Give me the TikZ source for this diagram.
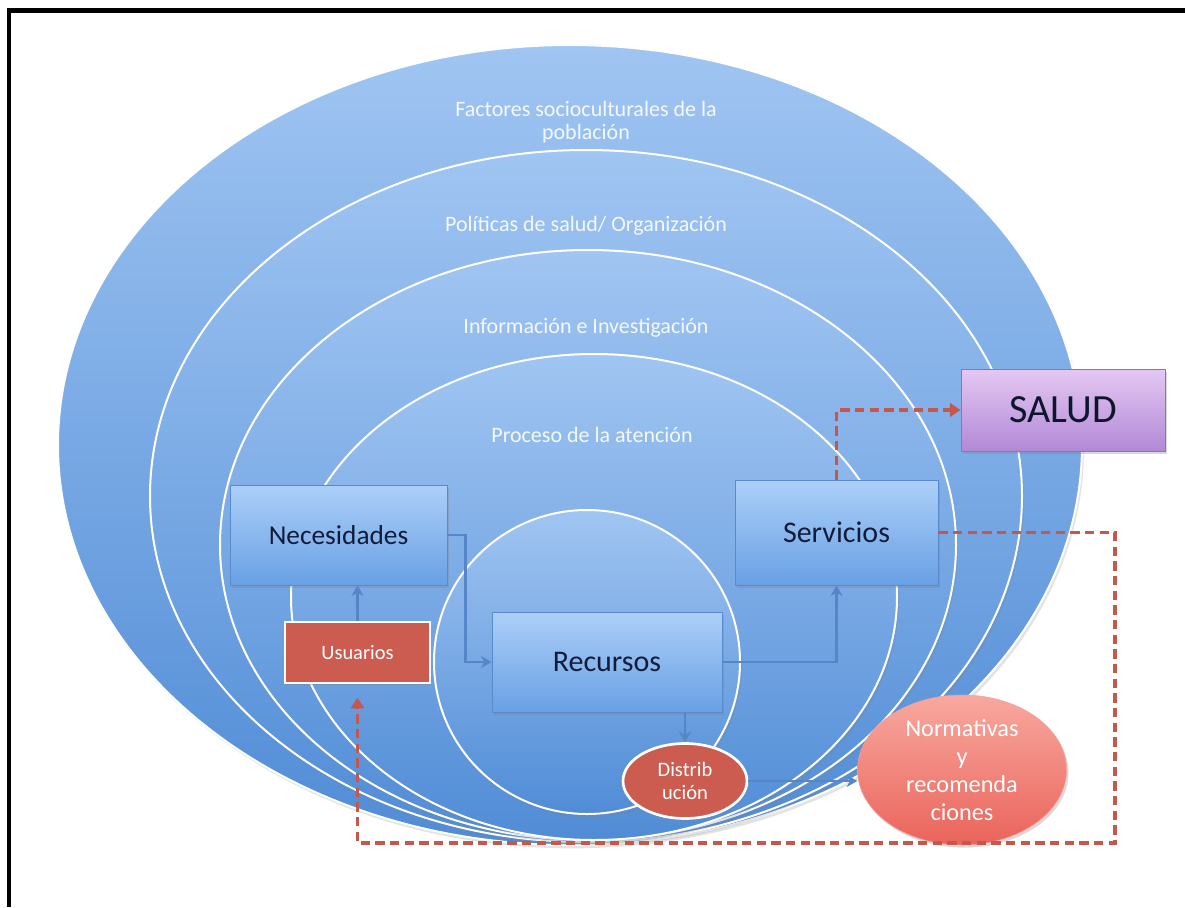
\documentclass[tikz,border=0pt]{standalone}
\usepackage{fontspec}
\setmainfont{Carlito}
\usetikzlibrary{shapes.geometric,arrows.meta,shadows}
\definecolor{ringTop}{RGB}{160,197,242}
\definecolor{ringBot}{RGB}{80,140,214}
\definecolor{boxTop}{RGB}{172,207,248}
\definecolor{boxBot}{RGB}{104,160,228}
\definecolor{boxLine}{RGB}{88,138,205}
\definecolor{navyText}{RGB}{18,28,58}
\definecolor{purTop}{RGB}{228,200,242}
\definecolor{purBot}{RGB}{178,136,214}
\definecolor{purLine}{RGB}{150,110,190}
\definecolor{redFill}{RGB}{204,92,80}
\definecolor{salTop}{RGB}{248,168,160}
\definecolor{salBot}{RGB}{234,100,90}
\definecolor{dashRed}{RGB}{196,88,76}
\definecolor{arrBlue}{RGB}{84,134,200}
\tikzset{
  ring/.style={ellipse, draw=white, line width=1.5pt, inner sep=0pt,
    top color=ringTop, bottom color=ringBot,
    drop shadow={opacity=0.22, shadow xshift=1.5pt, shadow yshift=-2.5pt}},
  ringlabel/.style={text=white, font=\fontsize{16.5}{17.5}\selectfont, align=center, opacity=0.9},
  bluebox/.style={rectangle, draw=boxLine, line width=0.6pt, top color=boxTop, bottom color=boxBot,
    text=navyText, drop shadow={opacity=0.3, shadow xshift=1.5pt, shadow yshift=-2pt}},
  redbox/.style={rectangle, draw=white, line width=2pt, fill=redFill, text=white,
    font=\fontsize{15.3}{18}\selectfont,
    drop shadow={opacity=0.3, shadow xshift=1pt, shadow yshift=-1.5pt}},
  bluearrow/.style={draw=arrBlue, line width=2.2pt, -{Stealth[length=8pt,width=9pt]}},
  dasharrow/.style={draw=dashRed, line width=2.4pt, dash pattern=on 7pt off 4pt,
    -{Triangle[length=8pt,width=10pt]}}
}
\begin{document}
\begin{tikzpicture}[x=0.75pt,y=-0.75pt]
\useasboundingbox (0,0) rectangle (1185,907);
\fill[white] (0,0) rectangle (1185,907);
\draw[line width=3.5pt] (9,907) -- (9,10.5) -- (1185,10.5);

% nested rings
\node[ring, minimum width=768pt, minimum height=600pt] (e1) at (570,445) {};
\node[ring, minimum width=654pt, minimum height=519pt] (e2) at (586,496) {};
\node[ring, minimum width=552pt, minimum height=442.5pt] (e3) at (588,545) {};
\node[ring, minimum width=454.5pt, minimum height=364.5pt] (e4) at (594,597) {};
\node[ring, minimum width=229.5pt, minimum height=228pt] (e5) at (587,662) {};

% ring labels
\node[ringlabel] (l1) at (586,122) {Factores socioculturales de la\\población};
\node[ringlabel] (l2) at (586,226) {Políticas de salud/ Organización};
\node[ringlabel] (l3) at (586,328) {Información e Investigación};
\node[ringlabel] (l4) at (592,435) {Proceso de la atención};

% boxes
\node[bluebox, minimum width=162.75pt, minimum height=75pt, font=\fontsize{20.5}{24}\selectfont] (nec) at (338.5,535) {Necesidades};
\node[bluebox, minimum width=152.25pt, minimum height=78.75pt, font=\fontsize{22.5}{26}\selectfont] (serv) at (836.5,532.5) {Servicios};
\node[bluebox, minimum width=172.5pt, minimum height=75pt, font=\fontsize{22.5}{26}\selectfont] (rec) at (607,662) {Recursos};
\node[rectangle, draw=purLine, line width=0.6pt, top color=purTop, bottom color=purBot,
  minimum width=153pt, minimum height=61.5pt, text=navyText!80!black,
  font=\fontsize{30}{34}\selectfont,
  drop shadow={opacity=0.3, shadow xshift=1.5pt, shadow yshift=-2pt}] (salud) at (1063,410) {SALUD};
\node[redbox, minimum width=108.75pt, minimum height=45.75pt] (usu) at (357.5,652.5) {Usuarios};
\node[ellipse, draw=white, line width=2pt, fill=redFill, text=white, inner sep=0pt,
  minimum width=93pt, minimum height=56.25pt, align=center,
  font=\fontsize{15.4}{17.5}\selectfont,
  drop shadow={opacity=0.3, shadow xshift=1pt, shadow yshift=-1.5pt}] (dist) at (685,781) {Distrib\\ución};
\node[ellipse, draw=salBot!60, line width=0.4pt, top color=salTop, bottom color=salBot,
  text=white, inner sep=0pt, minimum width=156.75pt, minimum height=112.5pt, align=center,
  font=\fontsize{18.2}{21}\selectfont,
  drop shadow={opacity=0.3, shadow xshift=1.5pt, shadow yshift=-2pt}] (norm) at (962,770) {Normativas\\y\\recomenda\\ciones};

% blue connectors
\draw[bluearrow] (usu.north) -- (usu.north |- nec.south);
\draw[bluearrow] (nec.east) -| ([xshift=-19.5pt]rec.west) -- (rec.west);
\draw[bluearrow] (rec.east) -| (serv.south);
\draw[bluearrow] (dist.north |- rec.south) -- (dist.north);
\draw[bluearrow] (dist.east) -- (dist.east -| norm.west);

% dashed connectors
\coordinate (c1) at (1115,843);
\draw[dasharrow] (serv.north) |- (salud.west);
\draw[dasharrow, shorten >=10pt] (serv.east) -| (c1) -| (usu.south);
\end{tikzpicture}
\end{document}
